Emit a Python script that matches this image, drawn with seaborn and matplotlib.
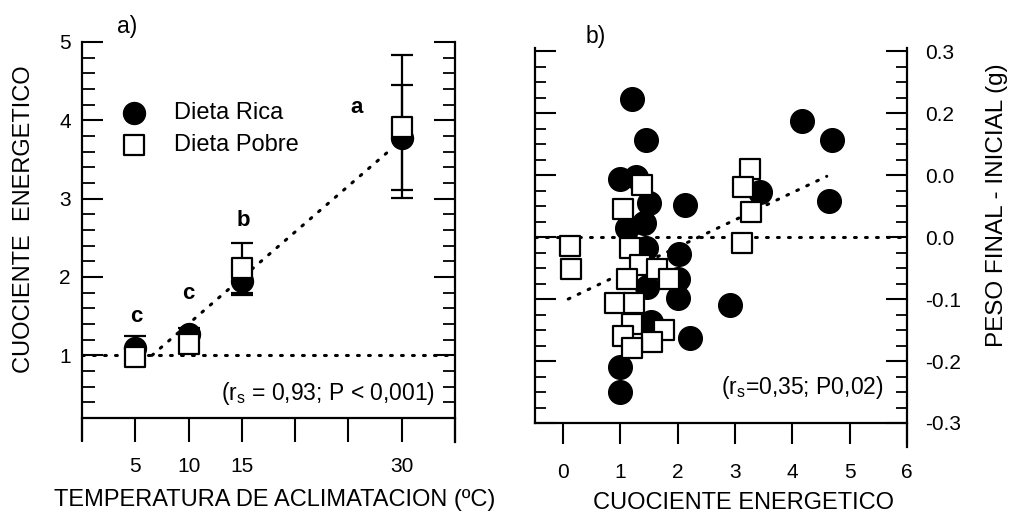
import matplotlib
matplotlib.use("Agg")
import matplotlib.pyplot as plt
from matplotlib.ticker import MultipleLocator
import seaborn as sns

# ---------------- data: panel a ----------------
temps = [5, 10, 15, 30]
rica_mean = [1.09, 1.27, 1.95, 3.78]
rica_err = [0.16, 0.08, 0.18, 0.67]
pobre_mean = [0.98, 1.14, 2.11, 3.92]
pobre_err = [0.05, 0.05, 0.32, 0.91]
sig_letters = ["c", "c", "b", "a"]
letter_x = [5.1, 10.0, 15.1, 25.8]
letter_y = [1.49, 1.79, 2.72, 4.17]
trend_a_x = [6.57, 28.9]
trend_a_y = [1.0, 3.62]
xticks_a = [0, 5, 10, 15, 20, 25, 30, 35]
xticklabels_a = ["", "5", "10", "15", "", "", "30", ""]
yticks_a = [1, 2, 3, 4, 5]
yticklabels_a = ["1", "2", "3", "4", "5"]

# ---------------- data: panel b ----------------
rica_ce = [1.20, 1.44, 4.17, 4.69, 4.64, 0.99, 1.27, 1.50, 2.13, 3.44, 1.12,
           1.41, 1.45, 2.02, 2.00, 2.00, 2.91, 2.22, 1.54, 1.00, 1.00, 1.47]
rica_dw = [0.222, 0.156, 0.188, 0.156, 0.058, 0.094, 0.097, 0.055, 0.052, 0.072, 0.015,
           0.022, -0.018, -0.027, -0.067, -0.099, -0.110, -0.163, -0.137, -0.209, -0.250, -0.080]
pobre_ce = [0.12, 0.14, 3.26, 3.14, 3.28, 3.12, 1.38, 1.05, 1.17, 1.34,
            1.11, 1.63, 1.84, 0.91, 1.24, 1.20, 1.76, 1.55, 1.05, 1.20]
pobre_dw = [-0.014, -0.052, 0.110, 0.081, 0.041, -0.010, 0.084, 0.045, -0.017, -0.045,
            -0.067, -0.052, -0.068, -0.106, -0.106, -0.140, -0.150, -0.170, -0.160, -0.179]
trend_b_x = [0.09, 4.6]
trend_b_y = [-0.10, 0.098]
xticks_b = [0, 1, 2, 3, 4, 5, 6]
yticks_b = [-0.3, -0.2, -0.1, 0.0, 0.1, 0.2, 0.3]
yticklabels_b = ["-0.3", "-0.2", "-0.1", "0.0", "0.0", "0.2", "0.3"]

# ---------------- style ----------------
sns.set_style("ticks")
plt.rcParams["font.family"] = ["Liberation Sans", "DejaVu Sans"]
plt.rcParams["mathtext.fontset"] = "custom"
plt.rcParams["mathtext.rm"] = "Liberation Sans"
plt.rcParams["mathtext.it"] = "Liberation Sans:italic"
plt.rcParams["axes.linewidth"] = 1.6
for key in ["text.color", "axes.labelcolor", "xtick.color", "ytick.color", "axes.edgecolor"]:
    plt.rcParams[key] = "black"

FS_TICK = 15
FS_LAB = 17
FS_STAT = 16.5
dotted = dict(color="black", linestyle=(0, (0.6, 3.0)), linewidth=2.2, dash_capstyle="round")

fig = plt.figure(figsize=(10.16, 5.18), dpi=100)
ax1 = fig.add_axes([82 / 1016, 1 - 418 / 518, 373 / 1016, 376 / 518])
ax2 = fig.add_axes([535 / 1016, 1 - 423 / 518, 372 / 1016, 375 / 518])

# ---------------- panel a ----------------
ax1.axhline(1.0, zorder=1, **dotted)
ax1.plot(trend_a_x, trend_a_y, zorder=1, **dotted)
ax1.errorbar(temps, rica_mean, yerr=rica_err, fmt="none", ecolor="black",
             elinewidth=1.6, capsize=8, capthick=1.6, zorder=2)
sns.scatterplot(x=temps, y=rica_mean, ax=ax1, marker="o", s=250, color="black",
                edgecolor="black", linewidth=1.0, label="Dieta Rica", zorder=3)
ax1.errorbar(temps, pobre_mean, yerr=pobre_err, fmt="none", ecolor="black",
             elinewidth=1.6, capsize=8, capthick=1.6, zorder=4)
sns.scatterplot(x=temps, y=pobre_mean, ax=ax1, marker="s", s=205, color="white",
                edgecolor="black", linewidth=1.6, label="Dieta Pobre", zorder=5)
for lx, ly, lt in zip(letter_x, letter_y, sig_letters):
    ax1.text(lx, ly, lt, ha="center", va="center", fontsize=16, fontweight="bold")

ax1.set_xlim(0, 35)
ax1.set_ylim(0.2, 5)
ax1.set_xticks(xticks_a)
ax1.set_xticklabels(xticklabels_a, fontsize=FS_TICK)
ax1.set_yticks(yticks_a)
ax1.set_yticklabels(yticklabels_a, fontsize=FS_TICK)
ax1.yaxis.set_minor_locator(MultipleLocator(0.2))
ax1.tick_params(axis="y", which="major", direction="in", length=15, width=1.5,
                left=True, right=True, pad=8)
ax1.tick_params(axis="y", which="minor", direction="in", length=9, width=1.3,
                left=True, right=True)
ax1.tick_params(axis="x", which="major", direction="out", length=17, width=1.5, pad=11)
ax1.spines["top"].set_visible(False)
ax1.spines["left"].set_bounds(-0.08, 5)
ax1.spines["right"].set_bounds(-0.1, 5)

leg = ax1.legend(loc="upper left", bbox_to_anchor=(110 / 1016, 1 - 90 / 518),
                 bbox_transform=fig.transFigure, frameon=False, fontsize=FS_LAB,
                 handlelength=1.0, handletextpad=1.2, labelspacing=0.45, borderpad=0)

ax1.text(33.1, 0.51, r"(r$_{\rm s}$ = 0,93; P < 0,001)", ha="right", va="center",
         fontsize=FS_STAT)
ax1.set_xlabel("TEMPERATURA DE ACLIMATACION (ºC)", fontsize=FS_LAB)
ax1.set_ylabel("CUOCIENTE  ENERGETICO", fontsize=FS_LAB)
ax1.xaxis.set_label_coords(0.517, -0.19)
ax1.yaxis.set_label_coords(-0.125, 0.53)
fig.text(127 / 1016, 1 - 27 / 518, "a)", ha="center", va="center", fontsize=16.5)

# ---------------- panel b ----------------
ax2.axhline(0.0, zorder=1, **dotted)
ax2.plot(trend_b_x, trend_b_y, zorder=1, **dotted)
sns.scatterplot(x=rica_ce, y=rica_dw, ax=ax2, marker="o", s=290, color="black",
                edgecolor="black", linewidth=1.0, zorder=3)
sns.scatterplot(x=pobre_ce, y=pobre_dw, ax=ax2, marker="s", s=190, color="white",
                edgecolor="black", linewidth=1.6, zorder=5)

ax2.set_xlim(-0.49, 6)
ax2.set_ylim(-0.3, 0.305)
ax2.set_xticks(xticks_b)
ax2.set_xticklabels([str(v) for v in xticks_b], fontsize=FS_TICK)
ax2.set_yticks(yticks_b)
ax2.set_yticklabels(yticklabels_b, fontsize=FS_TICK)
ax2.yaxis.set_minor_locator(MultipleLocator(0.025))
ax2.tick_params(axis="y", which="major", direction="in", length=15, width=1.5,
                left=True, right=True, labelleft=False, labelright=True, pad=13)
ax2.tick_params(axis="y", which="minor", direction="in", length=8, width=1.3,
                left=True, right=True)
ax2.tick_params(axis="x", which="major", direction="out", length=15, width=1.5, pad=14)
ax2.spines["top"].set_visible(False)
ax2.spines["right"].set_bounds(-0.338, 0.305)

ax2.text(5.6, -0.242, r"(r$_{\rm s}$=0,35; P0,02)", ha="right", va="center",
         fontsize=FS_STAT)
ax2.set_xlabel("CUOCIENTE ENERGETICO", fontsize=FS_LAB)
ax2.yaxis.set_label_position("right")
ax2.set_ylabel("PESO FINAL - INICIAL (g)", fontsize=17.5)
ax2.xaxis.set_label_coords(0.56, -0.185)
ax2.yaxis.set_label_coords(1.213, 0.58)
fig.text(596 / 1016, 1 - 37 / 518, "b)", ha="center", va="center", fontsize=16.5)
if ax2.get_legend() is not None:
    ax2.get_legend().remove()

fig.savefig("out.png", dpi=100)
